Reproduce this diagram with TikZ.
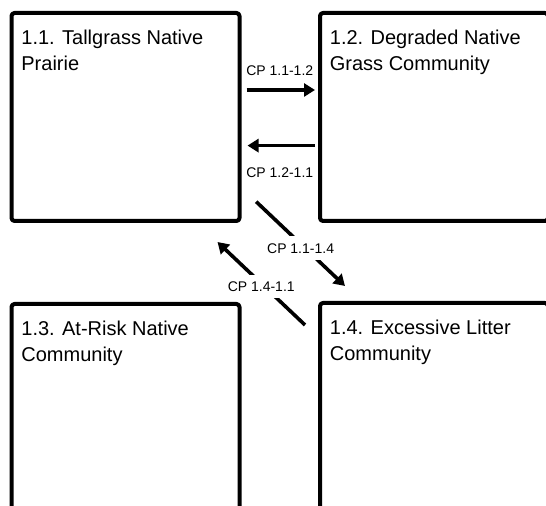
\documentclass[tikz,border=0pt]{standalone}
\usepackage{fontspec}
\setmainfont{Liberation Sans}
\usetikzlibrary{arrows.meta}
\tikzset{
	statebox/.style={draw, line width=2pt, rounded corners=1.5pt, minimum width=114pt,
		minimum height=104pt, anchor=north west, inner sep=0pt},
	statename/.style={anchor=north west, align=left, inner sep=0pt,
		font=\fontsize{10}{12.75}\selectfont},
	cp/.style={line width=1.8pt, -{Triangle[length=5.5pt,width=6.5pt]}},
	cplabel/.style={font=\fontsize{7}{8}\selectfont, inner sep=3.5pt}
}
\begin{document}
\begin{tikzpicture}[x=0.5pt, y=-0.5pt, line join=round]
	\useasboundingbox (0,0) rectangle (546,506);
	\clip (0,0) rectangle (546,506);
	\path
	(9.5,11) coordinate (P11)
	(318,11) coordinate (P12)
	(9.5,302) coordinate (P13)
	(318,301) coordinate (P14)
	;
	\foreach \s/\t in {11/{1.1. Tallgrass Native\\Prairie},
		12/{1.2. Degraded Native\\Grass Community},
		13/{1.3. At-Risk Native\\Community},
		14/{1.4. Excessive Litter\\Community}}
	{
	\node[statebox] (S\s) at (P\s) {};
	\node[statename] (N\s) at ([shift={(11.5,19)}]S\s.north west) {\t};
	}
	\draw[cp, shorten <=2.5pt, shorten >=1.5pt] ([yshift=13.5pt]S11.east)
	-- ([yshift=13.5pt]S11.east -| S12.west)
	node[cplabel, midway, yshift=9.5pt] (L12) {CP 1.1-1.2};
	\draw[cp, shorten <=1.5pt, shorten >=3pt] ([yshift=-14.3pt]S11.east -| S12.west)
	-- ([yshift=-14.3pt]S11.east)
	node[cplabel, midway, yshift=-13.75pt] (L21) {CP 1.2-1.1};
	\draw[cp] ([shift={(14.7,-21.3)}]S11.south east) -- ([shift={(27,-15)}]S14.north west)
	node[cplabel, midway, fill=white, yshift=-2.3pt] (L14) {CP 1.1-1.4};
	\draw[cp] ([shift={(-13,24)}]S14.north west) -- ([shift={(-24,19)}]S11.south east)
	node[cplabel, midway, fill=white, yshift=-1.5pt] (L41) {CP 1.4-1.1};
\end{tikzpicture}
\end{document}
